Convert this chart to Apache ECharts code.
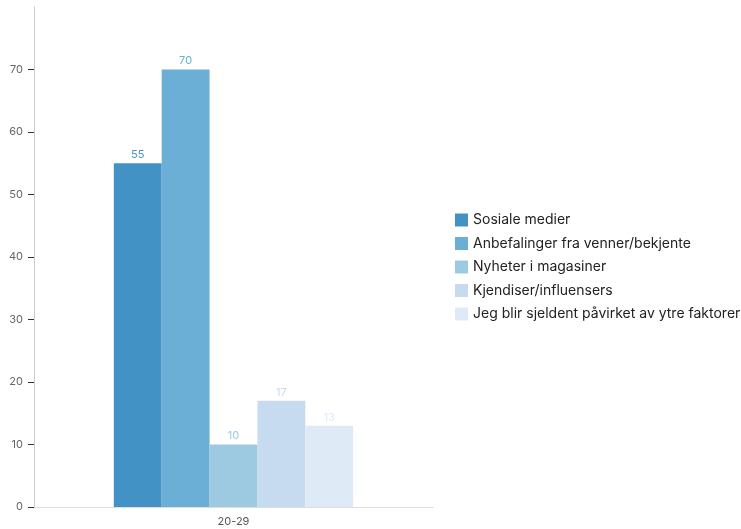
<!DOCTYPE html>
<html>
<head>
<meta charset="utf-8">
<script src="https://cdn.jsdelivr.net/npm/echarts@6/dist/echarts.min.js"></script>
<style>
  html, body { margin: 0; padding: 0; background: #fff; }
  #chart { width: 741px; height: 529px; }
</style>
</head>
<body>
<div id="chart"></div>
<script>
// Age group shown on the x axis
const categories = ['20-29'];

// Share of respondents (%) per influence source
const seriesNames = [
  'Sosiale medier',
  'Anbefalinger fra venner/bekjente',
  'Nyheter i magasiner',
  'Kjendiser/influensers',
  'Jeg blir sjeldent påvirket av ytre faktorer'
];
const sosialeMedier = [55];
const anbefalinger = [70];
const nyheterMagasiner = [10];
const kjendiser = [17];
const sjeldentPavirket = [13];

// Y axis tick labels
const yTicks = [0, 10, 20, 30, 40, 50, 60, 70];

const palette = ['#4292c6', '#6baed6', '#9ecae1', '#c6dbef', '#deebf7'];
const values = [sosialeMedier, anbefalinger, nyheterMagasiner, kjendiser, sjeldentPavirket];
const fontFamily = 'Inter, "Noto Sans", sans-serif';

const chart = echarts.init(document.getElementById('chart'), null, { renderer: 'canvas' });

chart.setOption({
  animation: false,
  color: palette,
  textStyle: { fontFamily },
  grid: { left: 34, right: 308, top: 7, bottom: 22, containLabel: false },
  legend: {
    orient: 'vertical',
    left: 450,
    top: 208,
    itemWidth: 13,
    itemHeight: 13,
    itemGap: 9.5,
    icon: 'rect',
    textStyle: { fontFamily, fontSize: 14, color: '#222' },
    data: seriesNames
  },
  xAxis: {
    type: 'category',
    data: categories,
    axisLine: { show: true, lineStyle: { color: '#ddd', width: 1 } },
    axisTick: { show: false },
    axisLabel: { color: '#555', fontSize: 11, margin: 9 }
  },
  yAxis: {
    type: 'value',
    min: 0,
    max: 80,
    interval: 10,
    splitLine: { show: false },
    axisLine: { show: true, lineStyle: { color: '#ccc', width: 1 } },
    axisTick: {
      show: true,
      inside: false,
      length: 6,
      lineStyle: { color: '#333' },
      customValues: yTicks
    },
    axisLabel: {
      color: '#666',
      fontSize: 11,
      margin: 11,
      customValues: yTicks
    }
  },
  series: seriesNames.map((name, i) => ({
    name,
    type: 'bar',
    data: values[i],
    barGap: '0%',
    barCategoryGap: '40%',
    label: {
      show: true,
      position: 'top',
      distance: 3,
      fontSize: 11,
      color: palette[i]
    }
  }))
});
</script>
</body>
</html>
